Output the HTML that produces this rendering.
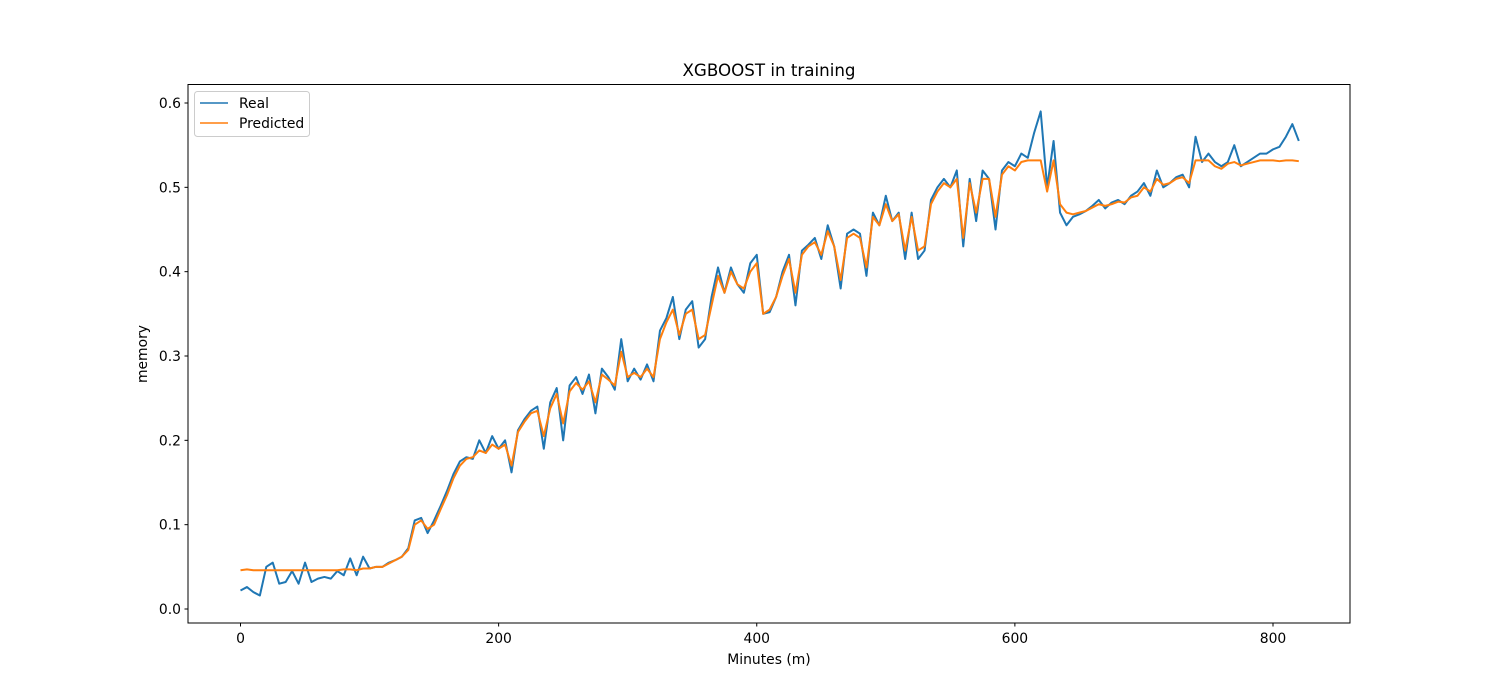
<!DOCTYPE html>
<html><head><meta charset="utf-8"><style>
body{margin:0;background:#fff;}
svg{display:block;font-family:"DejaVu Sans","Liberation Sans",sans-serif;}
</style></head><body>
<svg id="chart" width="1500" height="700" xmlns="http://www.w3.org/2000/svg">
<rect x="0" y="0" width="1500" height="700" fill="#fff"/>
<text x="769" y="76" text-anchor="middle" font-size="16.7">XGBOOST in training</text>
<g id="plot"></g>
<rect x="188" y="84.5" width="1162" height="538.5" fill="none" stroke="#000" stroke-width="1"/>
<text x="769" y="664" text-anchor="middle" font-size="13.9">Minutes (m)</text>
<text transform="translate(147,354) rotate(-90)" text-anchor="middle" font-size="13.9">memory</text>
<g>
<rect x="194.5" y="91.5" width="115" height="45" rx="3" fill="#fff" fill-opacity="0.8" stroke="#ccc"/>
<line x1="200" y1="103" x2="228" y2="103" stroke="#1f77b4" stroke-width="1.5"/>
<text x="239" y="108" font-size="13.9">Real</text>
<line x1="200" y1="123" x2="228" y2="123" stroke="#ff7f0e" stroke-width="1.5"/>
<text x="239" y="128" font-size="13.9">Predicted</text>
</g>
</svg>
<script>
const minutes = [];
const stepMinutes = 5;
const realValues = [0.022,0.026,0.020,0.016,0.050,0.055,0.030,0.032,0.045,0.030,0.055,0.032,0.036,0.038,0.036,0.045,0.040,0.060,0.040,0.062,
0.048,0.050,0.050,0.055,0.058,0.062,0.072,0.105,0.108,0.090,0.105,0.122,0.140,0.160,0.175,0.180,0.178,0.200,0.185,0.205,
0.190,0.200,0.162,0.212,0.225,0.235,0.240,0.190,0.245,0.262,0.200,0.265,0.275,0.255,0.278,0.232,0.285,0.275,0.260,0.320,
0.270,0.285,0.272,0.290,0.270,0.330,0.345,0.370,0.320,0.355,0.365,0.310,0.320,0.370,0.405,0.375,0.405,0.385,0.375,0.410,
0.420,0.350,0.352,0.370,0.400,0.420,0.360,0.425,0.432,0.440,0.415,0.455,0.430,0.380,0.445,0.450,0.445,0.395,0.470,0.455,
0.490,0.460,0.470,0.415,0.470,0.415,0.425,0.485,0.500,0.510,0.500,0.520,0.430,0.510,0.460,0.520,0.510,0.450,0.520,0.530,
0.525,0.540,0.535,0.565,0.590,0.500,0.555,0.470,0.455,0.465,0.468,0.472,0.478,0.485,0.475,0.482,0.485,0.480,0.490,0.495,
0.505,0.490,0.520,0.500,0.505,0.512,0.515,0.500,0.560,0.530,0.540,0.530,0.525,0.530,0.550,0.525,0.530,0.535,0.540,0.540,
0.545,0.548,0.560,0.575,0.555];
const predictedValues = [0.046,0.047,0.046,0.046,0.046,0.046,0.046,0.046,0.046,0.046,0.046,0.046,0.046,0.046,0.046,0.046,0.047,0.047,0.046,0.048,
0.048,0.050,0.050,0.054,0.058,0.062,0.070,0.100,0.105,0.095,0.100,0.118,0.135,0.155,0.170,0.178,0.180,0.188,0.185,0.195,
0.190,0.195,0.170,0.210,0.222,0.232,0.235,0.205,0.238,0.255,0.220,0.258,0.268,0.260,0.270,0.245,0.278,0.272,0.265,0.305,
0.275,0.280,0.275,0.285,0.275,0.320,0.340,0.355,0.325,0.350,0.355,0.320,0.325,0.360,0.395,0.375,0.400,0.385,0.380,0.400,
0.410,0.350,0.355,0.370,0.395,0.415,0.375,0.420,0.430,0.435,0.420,0.448,0.430,0.390,0.440,0.445,0.440,0.405,0.465,0.455,
0.480,0.460,0.468,0.425,0.465,0.425,0.430,0.480,0.495,0.505,0.500,0.510,0.440,0.505,0.470,0.510,0.510,0.465,0.515,0.525,
0.520,0.530,0.532,0.532,0.532,0.495,0.532,0.480,0.470,0.468,0.470,0.472,0.476,0.480,0.478,0.480,0.483,0.482,0.488,0.490,
0.500,0.495,0.510,0.503,0.505,0.510,0.512,0.505,0.532,0.532,0.532,0.525,0.522,0.528,0.530,0.526,0.528,0.530,0.532,0.532,
0.532,0.531,0.532,0.532,0.531];
for (let i = 0; i < realValues.length; i++) minutes.push(i * stepMinutes);
const xTicks = [0,200,400,600,800];
const yTicks = [0.0,0.1,0.2,0.3,0.4,0.5,0.6];
const yTickLabels = ["0.0","0.1","0.2","0.3","0.4","0.5","0.6"];

const NS = "http://www.w3.org/2000/svg";
const xs = m => 240.5 + m * (1273 - 240.5) / 800;
const ys = v => 609 - v * (609 - 103) / 0.6;
const plot = document.getElementById('plot');

function mk(tag, attrs) {
  const el = document.createElementNS(NS, tag);
  for (const k in attrs) el.setAttribute(k, attrs[k]);
  return el;
}
xTicks.forEach(t => {
  const g = mk('g', {});
  
  
  g.appendChild(mk('line', {x1: xs(t), x2: xs(t), y1: 623, y2: 626.5, stroke: '#000'}));
  const tx = mk('text', {x: xs(t), y: 643, 'text-anchor': 'middle', 'font-size': 13.9});
  tx.textContent = String(t);
  g.appendChild(tx);
  plot.appendChild(g);
});
yTicks.forEach((t, i) => {
  const g = mk('g', {});
  
  
  g.appendChild(mk('line', {x1: 184.5, x2: 188, y1: ys(t), y2: ys(t), stroke: '#000'}));
  const tx = mk('text', {x: 181, y: ys(t) + 5, 'text-anchor': 'end', 'font-size': 13.9});
  tx.textContent = yTickLabels[i];
  g.appendChild(tx);
  plot.appendChild(g);
});
function series(vals, color, name) {
  const d = vals.map((v, i) => (i ? 'L' : 'M') + xs(minutes[i]).toFixed(2) + ' ' + ys(v).toFixed(2)).join(' ');
  const p = mk('path', {d: d, fill: 'none', stroke: color, 'stroke-width': 2, 'stroke-linejoin': 'round'});
  
  
  plot.appendChild(p);
}
series(realValues, '#1f77b4', 'real-line');
series(predictedValues, '#ff7f0e', 'predicted-line');
</script>
</body></html>
